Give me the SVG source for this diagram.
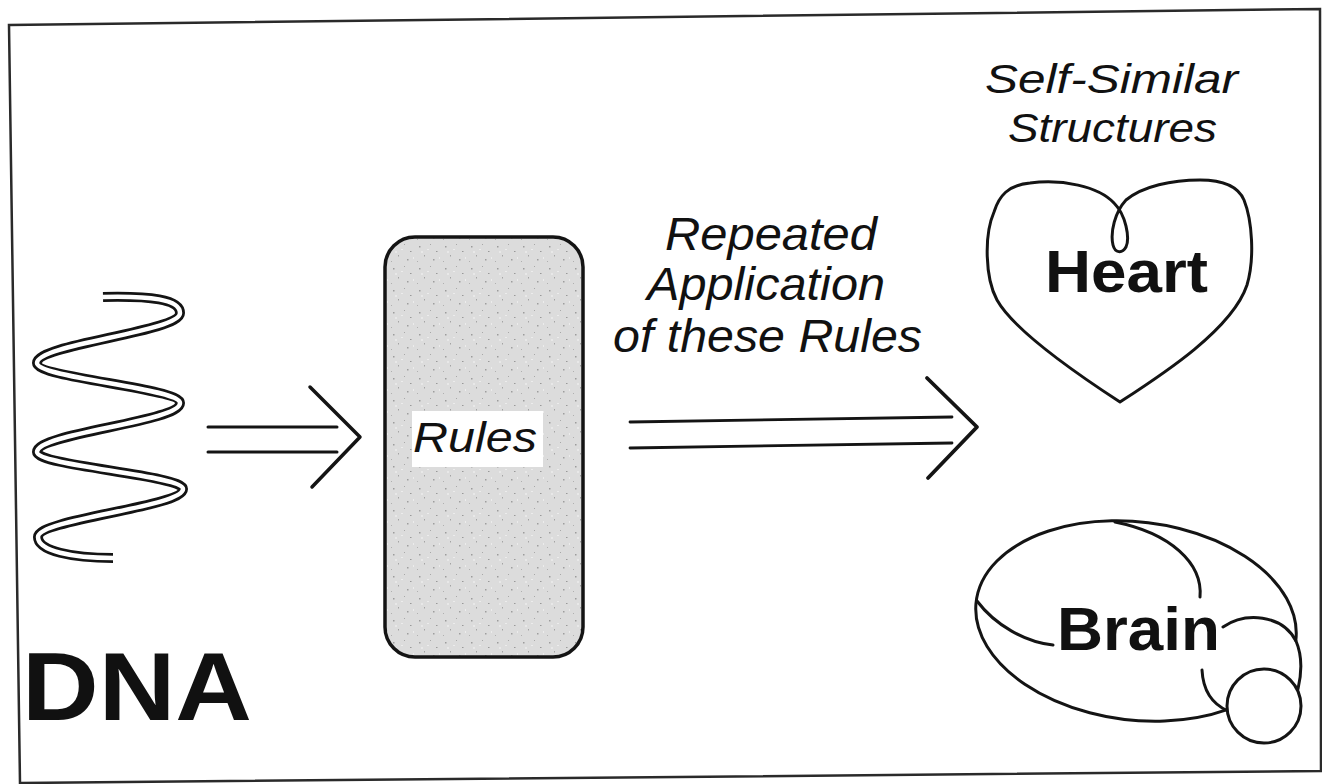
<svg xmlns="http://www.w3.org/2000/svg" width="1322" height="784" viewBox="0 0 1322 784">
  <style>
    .ink { fill: none; stroke: #141414; stroke-linecap: round; stroke-linejoin: round; }
    .lbl { font-family: "Liberation Sans", Arial, Helvetica, sans-serif; fill: #111; }
    .it { font-style: italic; }
    .bd { font-weight: bold; }
  </style>
  <defs>
    <!-- speckled grey screen used for the rules card -->
    <pattern id="speckle" width="26" height="22" patternUnits="userSpaceOnUse">
      <rect width="26" height="22" fill="#dcdcdc"/>
      <rect x="3" y="4" width="1.5" height="1.5" fill="#9c9c9c"/>
      <rect x="14" y="2" width="1" height="1" fill="#a8a8a8"/>
      <rect x="20" y="9" width="1.5" height="1" fill="#999"/>
      <rect x="8" y="13" width="1" height="1.5" fill="#a4a4a4"/>
      <rect x="17" y="17" width="1.5" height="1.5" fill="#9e9e9e"/>
      <rect x="1" y="19" width="1" height="1" fill="#b0b0b0"/>
      <rect x="11" y="7" width="2" height="1" fill="#ececec"/>
      <rect x="23" y="15" width="1" height="2" fill="#ececec"/>
      <rect x="5" y="9" width="2" height="2" fill="#e8e8e8"/>
    </pattern>
    <!-- centre line of the helix ribbon -->
    <path id="helix-line" d="M103,297 C150,296 180,299 180,313 C180,332 37,344 37,363 C37,378 180,388 180,403 C180,422 37,433 37,452 C37,466 183,475 183,489 C183,507 38,519 38,537 C38,551 72,558 113,558"/>
  </defs>

  <rect width="1322" height="784" fill="#ffffff"/>

  <!-- outer border -->
  <polygon points="9,25 1320,9 1321,771 20,783" fill="none" stroke="#2a2a2a" stroke-width="2.5"/>

  <!-- DNA helix (double-line ribbon) -->
  <g id="dna">
    <use href="#helix-line" fill="none" stroke="#141414" stroke-width="10"/>
    <use href="#helix-line" fill="none" stroke="#ffffff" stroke-width="4.5"/>
    <text class="lbl bd" x="22" y="720" font-size="96" textLength="230" lengthAdjust="spacingAndGlyphs">DNA</text>
  </g>

  <!-- rules card -->
  <g id="rules">
    <rect x="385" y="237" width="198" height="420" rx="30" ry="30" fill="url(#speckle)" stroke="#141414" stroke-width="3.5"/>
    <rect x="412" y="411" width="131" height="56" fill="#ffffff"/>
    <text class="lbl it" x="413" y="452" font-size="42" textLength="124" lengthAdjust="spacingAndGlyphs">Rules</text>
  </g>

  <!-- connectors -->
  <g id="connectors" class="ink">
    <g id="dna-to-rules">
      <line x1="208" y1="427" x2="337" y2="427" stroke-width="3"/>
      <line x1="208" y1="452" x2="337" y2="452" stroke-width="3"/>
      <polyline points="310,387 360,437 312,487" stroke-width="3.5"/>
    </g>
    <g id="rules-to-structures">
      <line x1="630" y1="422" x2="952" y2="417" stroke-width="2.8"/>
      <line x1="630" y1="448" x2="952" y2="443" stroke-width="2.8"/>
      <polyline points="927,378 977,427 928,478" stroke-width="3.8"/>
    </g>
  </g>

  <!-- connector label -->
  <g id="repeat-label">
    <text class="lbl it" x="665" y="250" font-size="47" textLength="212" lengthAdjust="spacingAndGlyphs">Repeated</text>
    <text class="lbl it" x="647" y="300" font-size="47" textLength="238" lengthAdjust="spacingAndGlyphs">Application</text>
    <text class="lbl it" x="613" y="352" font-size="47" textLength="309" lengthAdjust="spacingAndGlyphs">of these Rules</text>
  </g>

  <!-- heading over the outputs -->
  <g id="structures-title">
    <text class="lbl it" x="985" y="93" font-size="40" textLength="253" lengthAdjust="spacingAndGlyphs">Self-Similar</text>
    <text class="lbl it" x="1008" y="142" font-size="40" textLength="209" lengthAdjust="spacingAndGlyphs">Structures</text>
  </g>

  <!-- heart outline with the looped top -->
  <g id="heart">
    <path class="ink" stroke-width="3"
          d="M1120,402 C1080,376 1015,332 997,300 C985,278 984,235 994,212 C999,196 1008,185 1030,183 C1062,179 1098,186 1114,203 C1126,215 1130,238 1126,247 C1122,254 1115,253 1113,245 C1110,232 1115,212 1126,200 C1143,186 1172,180 1200,180 C1222,180 1238,186 1244,200 C1252,220 1255,258 1247,285 C1232,330 1160,376 1120,402 Z"/>
    <text class="lbl bd" x="1045" y="292" font-size="60" textLength="163" lengthAdjust="spacingAndGlyphs">Heart</text>
  </g>

  <!-- brain sketch -->
  <g id="brain">
    <g class="ink" stroke-width="3">
      <path d="M1227.2,709.7 A161,99 7 1 1 1295.8,640.6"/>
      <path d="M1115,522 C1170,533 1203,563 1200,597"/>
      <path d="M977,601 C995,625 1025,642 1053,645"/>
      <path d="M1223,627 C1245,612 1282,614 1296,641 C1302,655 1302,672 1298,689"/>
      <path d="M1202,670 C1203,690 1212,704 1228,711"/>
      <circle cx="1264" cy="706" r="37" fill="#ffffff"/>
    </g>
    <text class="lbl bd" x="1057" y="650" font-size="62" textLength="163" lengthAdjust="spacingAndGlyphs">Brain</text>
  </g>
</svg>
